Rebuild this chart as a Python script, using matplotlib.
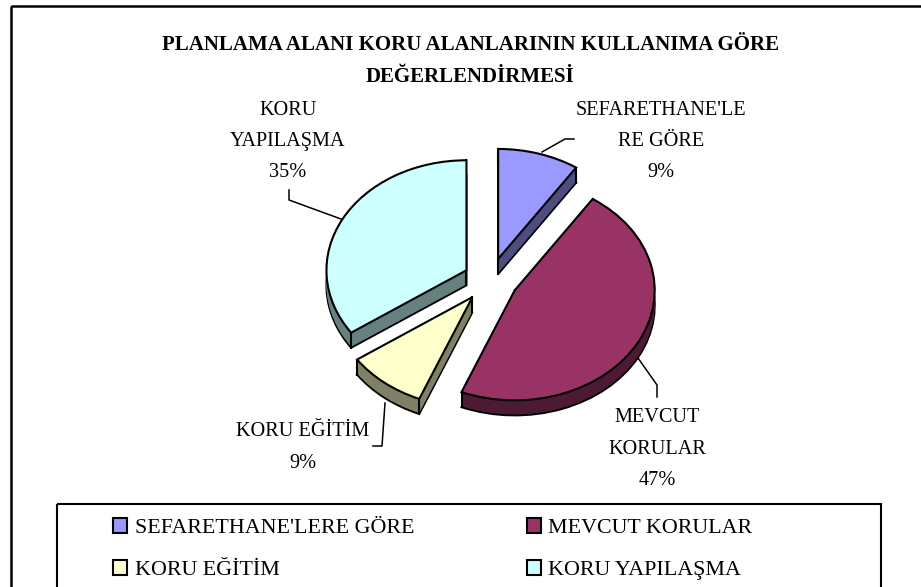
import numpy as np
import matplotlib
matplotlib.use('Agg')
import matplotlib.pyplot as plt
from matplotlib.patches import Patch, Rectangle

plt.rcParams['font.family'] = ['Liberation Serif', 'DejaVu Serif']

title = "PLANLAMA ALANI KORU ALANLARININ KULLANIMA GÖRE\nDEĞERLENDİRMESİ"
names = ["SEFARETHANE'LERE GÖRE", "MEVCUT KORULAR", "KORU EĞİTİM", "KORU YAPILAŞMA"]
label_names = ["SEFARETHANE'LE\nRE GÖRE", "MEVCUT\nKORULAR", "KORU EĞİTİM", "KORU\nYAPILAŞMA"]
values = [9.4, 46.8, 9.2, 34.6]
top_colors = ['#9999FF', '#993366', '#FFFFCC', '#CCFFFF']
side_colors = ['#4D4D80', '#4D1A33', '#808066', '#668080']
label_pos = [(661, 141.5), (657, 449), (303, 447.5), (288, 141.5)]
leaders = [
    [(542, 152), (565, 139), (574, 139)],
    [(638, 358), (657, 385), (657, 397)],
    [(385, 403), (382, 446), (373, 446)],
    [(341, 219), (289, 200), (289, 190)],
]

W, H = 921, 587
CX, CY, RX, RY = 490, 280, 140, 110
DEPTH = 15
EXPLODE = [0.2, 0.2, 0.2, 0.19]

fig = plt.figure(figsize=(W / 100, H / 100), dpi=100)

# pie is drawn in its own axes, the unequal x/y scale gives the tilted look
ax = fig.add_axes([0, 0, 1, 1])
steps = np.arange(DEPTH, 0, -1) / RY
for i, s in enumerate(steps):
    edge = 'black' if i == 0 else 'none'
    w, _ = ax.pie(values, explode=EXPLODE, startangle=90, counterclock=False,
                  colors=side_colors, center=(0, -s),
                  wedgeprops={'edgecolor': edge, 'linewidth': 1.5})
    for p in w:
        p.set_zorder(1)
top, _ = ax.pie(values, explode=EXPLODE, startangle=90, counterclock=False,
                colors=top_colors, wedgeprops={'edgecolor': 'black', 'linewidth': 1.5})
for p in top:
    p.set_zorder(3)
    cx, cy = p.center
    a1, a2 = np.radians([p.theta1, p.theta2])
    for x, y in [(cx, cy), (cx + np.cos(a1), cy + np.sin(a1)), (cx + np.cos(a2), cy + np.sin(a2))]:
        ax.plot([x, x], [y, y - DEPTH / RY], color='black', lw=1.5, zorder=2)
ax.set_aspect('auto')
ax.set_xlim(-CX / RX, (W - CX) / RX)
ax.set_ylim((CY - H) / RY, CY / RY)
ax.axis('off')

# overlay in pixel coords for the frames, texts and leader lines
ov = fig.add_axes([0, 0, 1, 1], zorder=5)
ov.set_xlim(0, W)
ov.set_ylim(H, 0)
ov.axis('off')
ov.add_patch(Rectangle((11, 6), W + 20, H + 20, fc='none', ec='black', lw=1.8))
ov.add_patch(Rectangle((57, 503.5), 823.5, H, fc='none', ec='black', lw=1.5))

ov.text(470, 61, title, ha='center', va='center', fontsize=15, fontweight='bold',
        color='black', linespacing=1.81)

for name, v, pos, leader in zip(label_names, values, label_pos, leaders):
    ov.text(pos[0], pos[1], f"{name}\n{round(v)}%", ha='center', va='center', fontsize=14.6,
            linespacing=1.88)
    xs, ys = zip(*leader)
    ov.plot(xs, ys, color='black', lw=1.1)

# legend fills column first, so swap the middle two to read row by row
order = [0, 2, 1, 3]
handles = [Patch(fc=top_colors[i], ec='black', lw=1.5) for i in order]
leg = ov.legend(handles, [names[i] for i in order], ncol=2, loc='upper left', frameon=False,
                bbox_to_anchor=(113 / W, 1 - 518 / H), bbox_transform=fig.transFigure,
                borderaxespad=0, borderpad=0, fontsize=15.8,
                handlelength=0.66, handleheight=0.68, handletextpad=0.32,
                columnspacing=5.14, labelspacing=0.99)

fig.savefig('out.png', dpi=100)
